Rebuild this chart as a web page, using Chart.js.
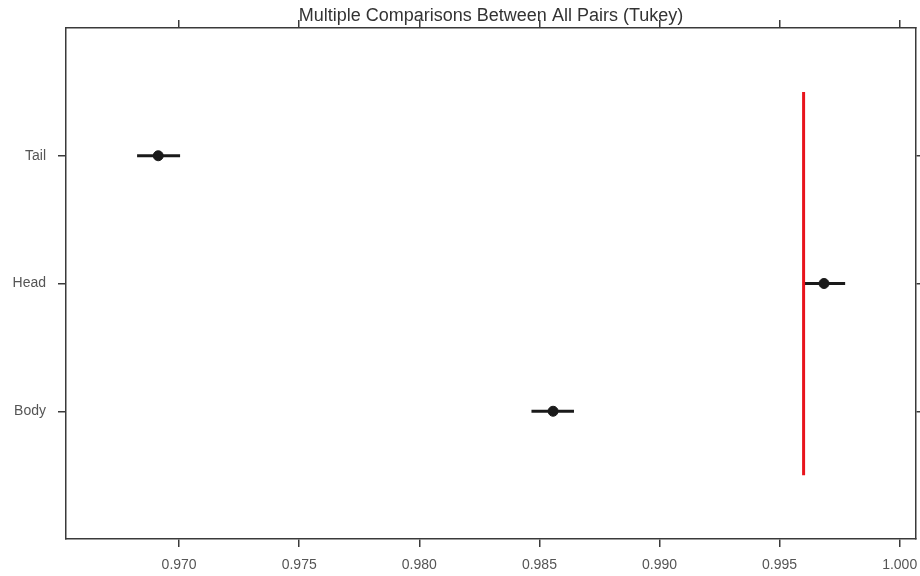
<!DOCTYPE html>
<html lang="en">
<head>
    <meta charset="UTF-8">
    <title>Tukey comparisons</title>
    <script src="https://cdn.jsdelivr.net/npm/chart.js@4.4.1/dist/chart.umd.min.js"></script>
    <style>
        body { margin: 0; background: #fff; }
    </style>
</head>
<body>
    <canvas id="tukeyChart" width="920" height="576"></canvas>
    <script>
        // values
        const groups = ['Body', 'Head', 'Tail'];
        const estimate = [0.98557, 0.99685, 0.96913];
        const lower = [0.98467, 0.99605, 0.96825];
        const upper = [0.98644, 0.99773, 0.97004];
        const refValue = 0.996;
        const refSpan = [0.5, 3.5];
        const xTicks = [0.970, 0.975, 0.980, 0.985, 0.990, 0.995, 1.000];
        const groupPos = [1, 2, 3];

        const font = { family: '"Liberation Sans", Arial, sans-serif', size: 14 };
        const axisColor = '#3a3a3a';

        // one little line per interval
        const barSets = groups.map((g, i) => ({
            label: g,
            data: [{ x: lower[i], y: groupPos[i] }, { x: upper[i], y: groupPos[i] }],
            showLine: true,
            borderColor: '#1a1a1a',
            borderWidth: 3,
            pointRadius: 0
        }));

        const xScale = (pos, showLabels) => ({
            type: 'linear',
            position: pos,
            min: 0.96529,
            max: 1.00068,
            afterBuildTicks: s => { s.ticks = xTicks.map(v => ({ value: v })); },
            afterFit: s => {
                s.height = pos === 'bottom' ? 37 : 1.4;
                s.paddingLeft = 0;
                s.paddingRight = 0;
            },
            ticks: {
                display: showLabels,
                font: font,
                color: '#555',
                padding: 10,
                maxRotation: 0,
                callback: v => v.toFixed(3)
            },
            grid: { drawOnChartArea: false, tickLength: 8, color: axisColor, lineWidth: 1.5 },
            border: { color: axisColor, width: 1.5 }
        });

        const yScale = (pos, showLabels) => ({
            type: 'linear',
            position: pos,
            min: 0,
            max: 4,
            afterBuildTicks: s => { s.ticks = groupPos.map(v => ({ value: v })); },
            afterFit: s => {
                s.width = pos === 'left' ? 66 : 4;
                s.paddingTop = 0;
                s.paddingBottom = 0;
            },
            ticks: {
                display: showLabels,
                font: font,
                color: '#555',
                padding: 12,
                callback: v => groups[groupPos.indexOf(v)]
            },
            grid: { drawOnChartArea: false, tickLength: 8, color: axisColor, lineWidth: 1.5 },
            border: { color: axisColor, width: 1.5 }
        });

        var ctx = document.getElementById('tukeyChart').getContext('2d');
        var myChart = new Chart(ctx, {
            type: 'scatter',
            data: {
                datasets: [
                    {
                        label: 'reference',
                        data: [{ x: refValue, y: refSpan[0] }, { x: refValue, y: refSpan[1] }],
                        showLine: true,
                        borderColor: '#e8141c',
                        borderWidth: 3,
                        pointRadius: 0
                    },
                    ...barSets,
                    {
                        label: 'estimate',
                        data: groups.map((g, i) => ({ x: estimate[i], y: groupPos[i] })),
                        backgroundColor: '#1a1a1a',
                        borderColor: '#1a1a1a',
                        pointRadius: 5
                    }
                ]
            },
            options: {
                responsive: false,
                animation: false,
                layout: { padding: 0, autoPadding: false },
                plugins: {
                    legend: { display: false },
                    tooltip: { enabled: false },
                    title: {
                        display: true,
                        fullSize: false,
                        text: 'Multiple Comparisons Between All Pairs (Tukey)',
                        font: { family: font.family, size: 18, weight: 'normal' },
                        color: '#333',
                        padding: { top: 5, bottom: 0 }
                    }
                },
                scales: {
                    x: xScale('bottom', true),
                    x2: xScale('top', false),
                    y: yScale('left', true),
                    y2: yScale('right', false)
                }
            }
        });
    </script>
</body>
</html>
